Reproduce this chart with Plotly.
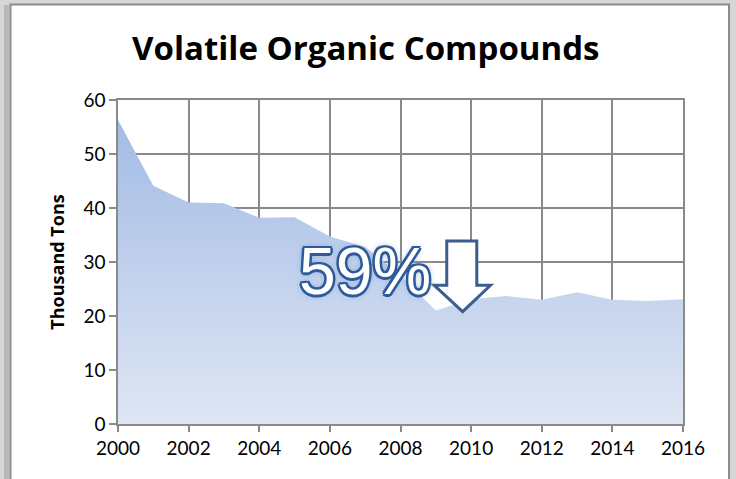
import plotly.graph_objects as go

years = list(range(2000, 2017))
voc = [56.3, 44.1, 41.0, 40.9, 38.2, 38.3, 34.7, 32.8, 27.5, 21.0, 23.1, 23.7, 23.0, 24.4, 23.0, 22.8, 23.1]
x_ticks = list(range(2000, 2017, 2))
y_ticks = list(range(0, 61, 10))
title_text = "Volatile Organic Compounds"
y_title = "Thousand Tons"
callout = "59%"

# arrow outline (annotation graphic) in data units
arrow_x = [2009.31, 2010.16, 2010.16, 2010.55, 2009.76, 2008.95, 2009.31]
arrow_y = [33.9, 33.9, 25.7, 25.7, 20.8, 25.7, 25.7]

fig = go.Figure()
fig.add_trace(go.Scatter(
    x=years, y=voc, mode="lines", line=dict(width=0, color="rgba(0,0,0,0)"),
    fill="tozeroy",
    fillgradient=dict(type="vertical",
                      colorscale=[[0, "#dfe6f4"], [1, "#a3bbe5"]]),
    hoverinfo="skip", showlegend=False,
))

path = "M " + " L ".join(f"{x},{y}" for x, y in zip(arrow_x, arrow_y)) + " Z"

W, H = 736, 479
L, R, T, B = 118, 53, 100, 55
pw, ph = W - L - R, H - T - B
def px(x):
    return (x - L) / pw
def py(y):
    return (H - B - y) / ph

grid = "#8a8a8a"
oc = "#2d5a9a"
fig.update_layout(
    width=W, height=H,
    margin=dict(l=L, r=R, t=T, b=B),
    paper_bgcolor="#d6d6d6",
    plot_bgcolor="rgba(0,0,0,0)",
    showlegend=False,
    title=dict(text=title_text, x=0.497, xanchor="center", y=1 - 48 / H, yanchor="middle",
               font=dict(family="Open Sans", size=33, color="#000000", weight="bold")),
    xaxis=dict(range=[2000, 2016], tickmode="array", tickvals=x_ticks,
               ticktext=[str(v) for v in x_ticks], showgrid=True, gridcolor=grid,
               gridwidth=1.5, showline=True, linecolor=grid, linewidth=1.5, mirror=True,
               ticks="outside", ticklen=6, tickcolor=grid, tickwidth=1.5, zeroline=False,
               tickfont=dict(family="Lato", size=19, color="#000000"), layer="below traces"),
    yaxis=dict(range=[0, 60], tickmode="array", tickvals=y_ticks,
               ticktext=[str(v) for v in y_ticks], showgrid=True, gridcolor=grid,
               gridwidth=1.5, showline=True, linecolor=grid, linewidth=1.5, mirror=True,
               ticks="outside", ticklen=7, tickcolor=grid, tickwidth=1.5, zeroline=False,
               tickfont=dict(family="Lato", size=19, color="#000000"),
               title=dict(text=y_title, standoff=14,
                          font=dict(family="Open Sans", size=18, color="#000000", weight="bold"))),
    shapes=[
        dict(type="rect", xref="paper", yref="paper", x0=px(10.5), x1=px(729), y0=py(495), y1=py(4.5),
             fillcolor="#ffffff", line=dict(color="#8c8c8c", width=2), layer="below"),
        dict(type="rect", xref="paper", yref="paper", x0=px(4), x1=px(9.5), y0=py(495), y1=py(5),
             fillcolor="#b8b8b8", line=dict(width=0), layer="below"),
    ],
    annotations=[
        dict(text=callout, x=(297 - L) / pw, y=py(271), xref="paper", yref="paper",
             xanchor="left", yanchor="middle", showarrow=False,
             font=dict(family="Liberation Sans", size=66, color="#ffffff",
                       shadow=(f"2.5px 0 0 {oc}, -2.5px 0 0 {oc}, 0 2.5px 0 {oc}, 0 -2.5px 0 {oc}, "
                               f"1.8px 1.8px 0 {oc}, -1.8px -1.8px 0 {oc}, 1.8px -1.8px 0 {oc}, "
                               f"-1.8px 1.8px 0 {oc}, 0 0 7px #6f95cf"))),
    ],
)
fig.add_shape(type="path", xref="x", yref="y", path=path, fillcolor="#ffffff",
              line=dict(color="#3a5e8e", width=3), layer="above")

fig.write_html("out.html", config={"displayModeBar": False},
               post_script="document.body.style.margin='0';document.body.style.overflow='hidden';")
